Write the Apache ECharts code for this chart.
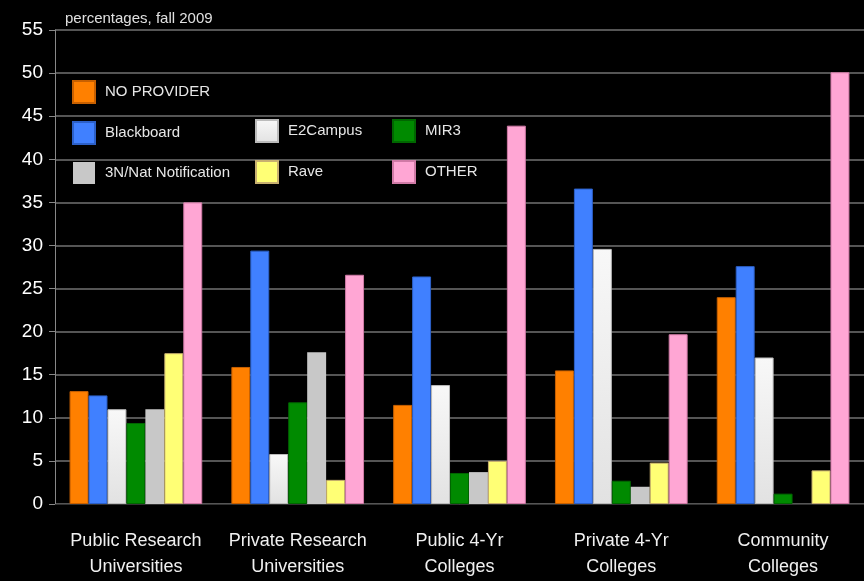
<!DOCTYPE html>
<html style="height: 100%">
<head>
    <meta charset="utf-8">
    <script src="https://cdn.jsdelivr.net/npm/echarts@6/dist/echarts.min.js"></script>
</head>
<body style="height: 100%; margin: 0; background: #000">
<div id="container" style="width: 864px; height: 581px"></div>

<script type="text/javascript">
    // data
    var categories = ['Public Research\nUniversities', 'Private Research\nUniversities',
        'Public 4-Yr\nColleges', 'Private 4-Yr\nColleges', 'Community\nColleges'];
    var noProvider = [13.1, 15.9, 11.5, 15.5, 24.0];
    var blackboard = [12.6, 29.4, 26.4, 36.6, 27.6];
    var e2campus   = [11.0, 5.8, 13.8, 29.6, 17.0];
    var mir3       = [9.4, 11.8, 3.6, 2.7, 1.2];
    var nat3n      = [11.0, 17.6, 3.7, 2.0, 0];
    var rave       = [17.5, 2.8, 5.0, 4.8, 3.9];
    var other      = [35.0, 26.6, 43.9, 19.7, 50.1];
    var yTicks = {min: 0, max: 55, interval: 5};

    var dom = document.getElementById("container");
    var myChart = echarts.init(dom);

    function grad(top, bottom) {
        return new echarts.graphic.LinearGradient(0, 0, 0, 1, [
            {offset: 0, color: top},
            {offset: 1, color: bottom}
        ]);
    }

    function bar(name, data, color, border) {
        return {
            name: name,
            type: 'bar',
            data: data,
            barGap: '0%',
            barCategoryGap: '18%',
            itemStyle: {color: color, borderColor: border, borderWidth: border ? 1 : 0}
        };
    }

    var legendText = {color: '#e6e6e6', fontSize: 15, fontFamily: 'Liberation Sans, Arial, sans-serif', padding: [0, 0, 0, 5]};
    var legendBase = {orient: 'vertical', itemWidth: 22, itemHeight: 22, itemGap: 17, icon: 'rect', textStyle: legendText};

    var option = {
        backgroundColor: '#000',
        animation: false,
        title: {
            text: 'percentages, fall 2009',
            left: 60, top: 6,
            textStyle: {color: '#e0e0e0', fontSize: 15, fontWeight: 'normal', fontFamily: 'Liberation Sans, Arial, sans-serif'}
        },
        legend: [
            Object.assign({left: 67, top: 75, data: ['NO PROVIDER', 'Blackboard', '3N/Nat Notification']}, legendBase),
            Object.assign({left: 250, top: 114, data: ['E2Campus', 'Rave']}, legendBase),
            Object.assign({left: 387, top: 114, data: ['MIR3', 'OTHER']}, legendBase)
        ],
        grid: {left: 55, right: -8, top: 30, bottom: 77},
        xAxis: {
            type: 'category',
            data: categories,
            axisLine: {lineStyle: {color: '#333'}},
            axisTick: {lineStyle: {color: '#999'}, length: 6},
            axisLabel: {
                interval: 0,
                color: '#f0f0f0', fontSize: 18, lineHeight: 26, margin: 24,
                fontFamily: 'Liberation Sans, Arial, sans-serif'
            }
        },
        yAxis: {
            type: 'value',
            min: yTicks.min, max: yTicks.max, interval: yTicks.interval,
            axisLine: {show: true, lineStyle: {color: '#888'}},
            axisTick: {show: true, length: 6, lineStyle: {color: '#888'}},
            axisLabel: {color: '#fff', fontSize: 19, margin: 12, fontFamily: 'Liberation Sans, Arial, sans-serif'},
            splitLine: {lineStyle: {color: '#555', width: 2}}
        },
        series: [
            bar('NO PROVIDER', noProvider, '#ff8000', '#c86000'),
            bar('Blackboard', blackboard, '#4080ff', '#2c60c8'),
            bar('E2Campus', e2campus, grad('#f8f8f8', '#e2e2e2'), '#bbbbbb'),
            bar('MIR3', mir3, '#008a00', '#006600'),
            bar('3N/Nat Notification', nat3n, '#c8c8c8', null),
            bar('Rave', rave, '#ffff75', '#c8b070'),
            bar('OTHER', other, '#ffa6d4', '#d07aa6')
        ]
    };

    myChart.setOption(option, true);
</script>
</body>
</html>
